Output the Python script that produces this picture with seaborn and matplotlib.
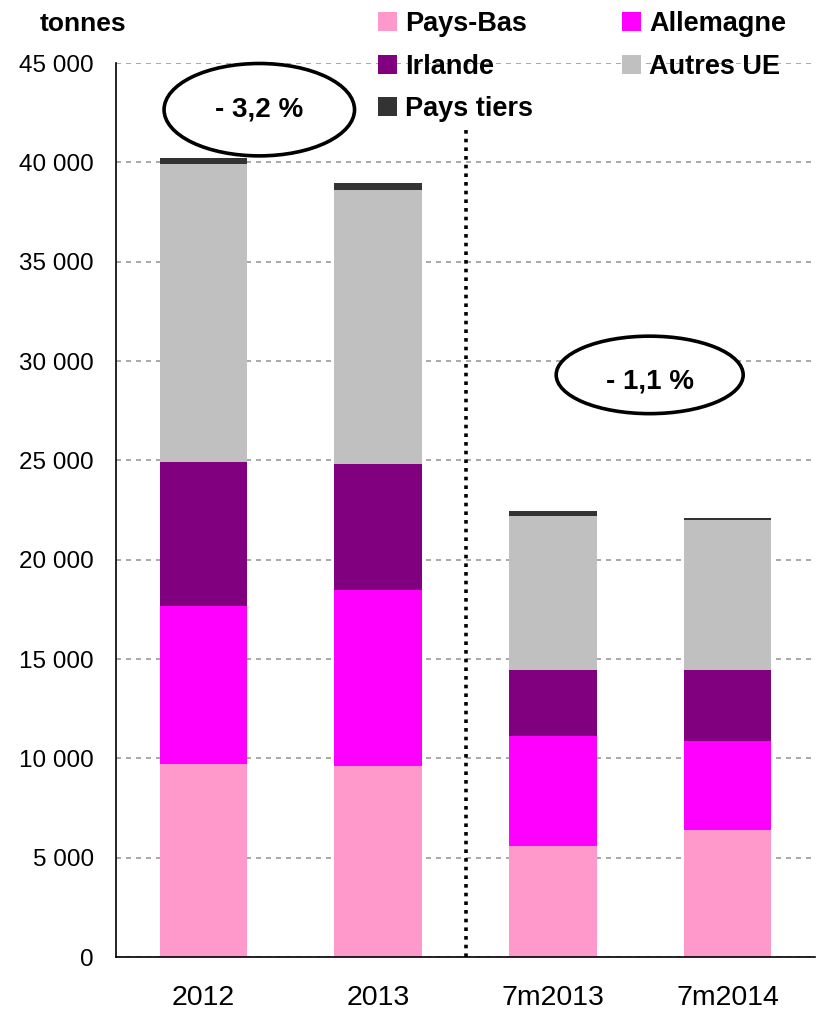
import numpy as np
import pandas as pd
import seaborn as sns
import matplotlib
matplotlib.use("Agg")
import matplotlib.pyplot as plt
from matplotlib.patches import Ellipse, Patch
from matplotlib.ticker import FuncFormatter, FixedLocator

# data (tonnes)
periods = ["2012", "2013", "7m2013", "7m2014"]
pays_bas = [9700, 9600, 5600, 6400]
allemagne = [7950, 8850, 5500, 4450]
irlande = [7250, 6350, 3350, 3600]
autres_ue = [15000, 13800, 7750, 7550]
pays_tiers = [300, 350, 250, 100]

series = ["Pays-Bas", "Allemagne", "Irlande", "Autres UE", "Pays tiers"]
colors = ["#FF99CC", "#FF00FF", "#800080", "#C0C0C0", "#333333"]

df = pd.DataFrame({"periode": periods, "Pays-Bas": pays_bas, "Allemagne": allemagne,
                   "Irlande": irlande, "Autres UE": autres_ue, "Pays tiers": pays_tiers})
cum = df[series].cumsum(axis=1)
cum["periode"] = df["periode"]

sns.set_style("white")
plt.rcParams["font.family"] = ["Liberation Sans", "DejaVu Sans"]
plt.rcParams.update({"text.color": "black", "axes.labelcolor": "black",
                     "xtick.color": "black", "ytick.color": "black"})

fig = plt.figure(figsize=(8.18, 10.1), dpi=100)
ax = fig.add_axes([116/818, 1-957/1010, 699/818, 894/1010])

# stacked bars: draw cumulative totals from top to bottom
for s, c in zip(reversed(series), reversed(colors)):
    sns.barplot(data=cum, x="periode", y=s, color=c, width=0.5, saturation=1,
                ax=ax, zorder=2, linewidth=0)

ax.set_xlim(-0.5, 3.5)
ax.set_ylim(0, 45000)
ax.set_xlabel("")
ax.set_ylabel("")

ax.yaxis.set_major_locator(FixedLocator(np.arange(0, 45001, 5000)))
ax.yaxis.set_major_formatter(FuncFormatter(lambda v, p: f"{int(v):,}".replace(",", " ")))
ax.set_axisbelow(True)
ax.yaxis.grid(True, color="#999999", linestyle=(0, (3, 3)), linewidth=1.2)
ax.xaxis.grid(False)

ax.set_xticks(range(4))
ax.set_xticks(np.arange(-0.5, 3.6, 1), minor=True)
ax.tick_params(axis="x", which="major", length=0, labelsize=20.5, pad=20, labelcolor="black")
ax.tick_params(axis="x", which="minor", length=9, width=1.2, direction="out", color="black")
ax.tick_params(axis="y", which="major", length=6, width=1.2, direction="out", color="black",
               labelsize=17.5, pad=10, labelcolor="black")

for sp in ["top", "right"]:
    ax.spines[sp].set_visible(False)
for sp in ["left", "bottom"]:
    ax.spines[sp].set_color("black")
    ax.spines[sp].set_linewidth(1.2)

# separator between years and 7 months
ax.vlines(1.5, 0, 41700, colors="black", linestyles=(0, (1, 1.4)), linewidth=2.6, zorder=3)

# variation labels
for (xc, yc, w, h, txt, dy) in [(0.32, 42650, 1.09, 4650, "- 3,2 %", 0),
                                (2.554, 29300, 1.07, 3900, "- 1,1 %", -350)]:
    ax.add_patch(Ellipse((xc, yc), w, h, facecolor="white", edgecolor="black",
                         linewidth=2.6, zorder=4, clip_on=False))
    ax.text(xc, yc + dy, txt, ha="center", va="center", fontsize=20,
            fontweight="bold", zorder=5, color="black")

fig.text(40/818, 1-24/1010, "tonnes", fontsize=19, fontweight="bold", va="center",
         color="black")

handles = {s: Patch(facecolor=c, edgecolor="none") for s, c in zip(series, colors)}
order = ["Pays-Bas", "Irlande", "Pays tiers", "Allemagne", "Autres UE"]
leg = fig.legend([handles[s] for s in order], order, ncol=2, loc="upper left",
                 bbox_to_anchor=(367/818, 1.0), frameon=False,
                 prop={"weight": "bold", "size": 19.5}, handlelength=0.7, handleheight=0.7,
                 handletextpad=0.3, labelspacing=0.62, columnspacing=3.3, borderaxespad=0)
for t in leg.get_texts():
    t.set_color("black")

fig.savefig("out.png", dpi=100)
